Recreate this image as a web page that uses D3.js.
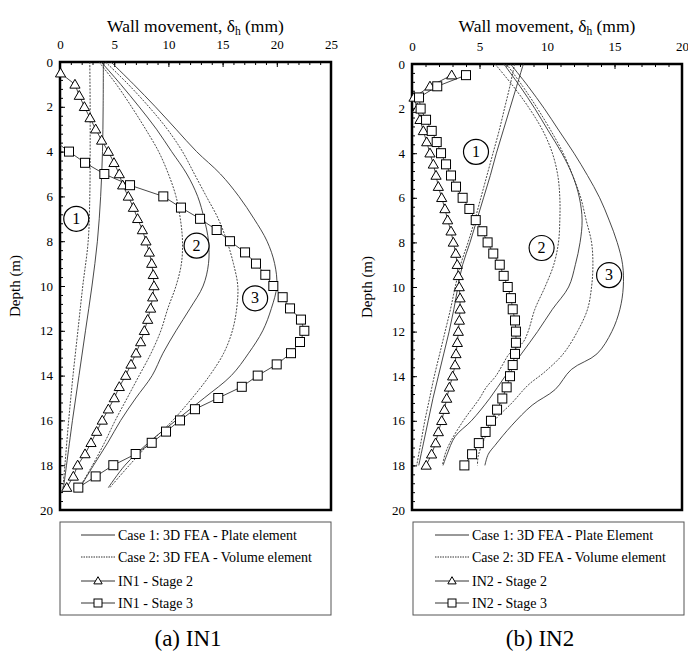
<!DOCTYPE html>
<html>
<head>
<meta charset="utf-8">
<script src="https://cdn.jsdelivr.net/npm/d3@7"></script>
<style>
body { margin: 0; background: #fff; }
</style>
</head>
<body>
<div id="chart"></div>
<script>
// every series is a list of [depth (m), wall movement (mm)]

// (a) IN1
var in1PlateS1 = [[0,4.0],[2,3.98],[4,3.92],[6,3.75],[8,3.45],[10,2.95],[12,2.35],[14,1.75],[16,1.15],[18,0.6],[19.1,0.3]];
var in1VolumeS1 = [[0,2.75],[2,2.78],[4,2.78],[6,2.75],[8,2.6],[10,2.1],[12,1.65],[14,1.2],[16,0.8],[18,0.45],[19.1,0.25]];
var in1PlateS2 = [[0,3.8],[1,5.6],[2,7.3],[3,8.9],[4,10.3],[5,11.7],[6,12.7],[7,13.3],[8,13.7],[9,13.7],[10,13.2],[11,12.0],[12,10.7],[13,9.5],[14,8.5],[15,7.0],[16,5.6],[17,4.4],[18,3.1],[19,1.85]];
var in1VolumeS2 = [[0,3.6],[1,5.2],[2,6.6],[3,7.9],[4,9.1],[5,10.0],[6,10.7],[7,11.1],[8,11.3],[9,11.2],[10,10.7],[11,9.95],[12,9.3],[13,8.4],[14,7.3],[15,6.2],[16,5.1],[17,4.1],[18,3.0],[19,1.8]];
var in1PlateS3 = [[0,4.7],[1,6.8],[2,8.8],[3,10.7],[4,12.6],[5,14.8],[6,16.5],[7,17.9],[8,19.1],[9,19.8],[10,20.0],[11,19.5],[12,18.7],[13,17.4],[14,15.8],[15,13.3],[16,10.7],[17,8.15],[18,6.0],[19,4.46]];
var in1VolumeS3 = [[0,4.2],[1,6.3],[2,8.2],[3,9.9],[4,11.3],[5,12.4],[6,13.5],[7,14.6],[8,15.4],[9,16.0],[10,16.4],[11,16.3],[12,15.9],[13,15.1],[14,13.8],[15,12.2],[16,10.4],[17,8.3],[18,6.4],[19,4.6]];
var in1Stage2 = [[0.5,0.05],[1,1.38],[1.5,1.78],[2,2.25],[2.5,2.77],[3,3.29],[3.5,3.84],[4,4.46],[4.5,4.98],[5,5.47],[5.5,5.78],[6,6.3],[6.5,6.77],[7,7.16],[7.5,7.6],[8,7.93],[8.5,8.24],[9,8.46],[9.5,8.6],[10,8.67],[10.5,8.55],[11,8.36],[11.5,8.09],[12,7.78],[12.5,7.44],[13,7.01],[13.5,6.55],[14,6.06],[14.5,5.47],[15,5.01],[15.5,4.46],[16,3.9],[16.5,3.38],[17,2.86],[17.5,2.31],[18,1.63],[18.5,1.23],[19,0.62]];
var in1Stage3Start = [3.7,0];
var in1Stage3 = [[4,0.83],[4.5,2.31],[5,4.09],[5.5,6.46],[6,9.53],[6.5,11.16],[7,12.92],[7.5,14.45],[8,15.68],[8.5,17.07],[9,18.08],[9.5,18.94],[10,19.68],[10.5,20.54],[11,21.22],[11.5,22.23],[12,22.54],[12.5,22.14],[13,21.31],[13.5,19.99],[14,18.24],[14.5,16.77],[15,14.6],[15.5,12.45],[16,11.07],[16.5,9.78],[17,8.46],[17.5,6.98],[18,4.92],[18.5,3.29],[19,1.69]];
var in1Labels = [[7,1.5,"1"],[8.2,12.6,"2"],[10.55,18.0,"3"]];

// (b) IN2
var in2PlateS1 = [[0,8.25],[1,7.75],[2,7.25],[3,6.75],[4,6.25],[5,5.8],[6,5.3],[7,4.8],[8,4.3],[9,3.75],[10,3.4],[11,3.1],[12,2.75],[13,2.35],[14,1.95],[15,1.55],[16,1.2],[17,0.85],[18,0.5]];
var in2VolumeS1 = [[0,7.6],[1,7.25],[2,6.85],[3,6.45],[4,6.0],[5,5.55],[6,5.1],[7,4.65],[8,4.15],[9,3.6],[10,3.2],[11,2.85],[12,2.45],[13,2.05],[14,1.65],[15,1.3],[16,0.95],[17,0.65],[18,0.35]];
var in2PlateS2 = [[0,6.8],[1,8.0],[2,9.1],[3,10.1],[4,11.1],[5,11.9],[6,12.4],[7,12.6],[8,12.45],[9,12.1],[10,11.6],[11,10.4],[12,9.3],[13,8.1],[14,6.9],[15,5.75],[16,4.4],[16.7,3.2],[17.5,2.6],[18,2.3]];
var in2VolumeS2 = [[0,6.15],[1,7.5],[2,8.7],[3,9.7],[4,10.4],[5,10.8],[6,10.95],[7,10.95],[8,10.85],[9,10.5],[10,9.85],[11,9.1],[12,8.6],[12.5,8.2],[13,7.2],[13.5,6.7],[14,6.2],[14.5,5.5],[15,5.0],[16,3.8],[17,2.8],[17.5,2.45],[18,2.25]];
var in2PlateS3 = [[0,7.3],[1,8.6],[2,9.8],[3,10.9],[4,12.0],[5,13.0],[6,13.9],[7,14.6],[8,15.2],[9,15.6],[10,15.65],[11,15.4],[12,14.8],[13,13.7],[13.7,11.8],[14.6,10.6],[15.3,8.9],[16.2,7.4],[17.1,6.15],[17.5,5.65],[18,5.4]];
var in2VolumeS3 = [[0,7.0],[1,8.2],[2,9.3],[3,10.3],[4,11.2],[5,11.9],[6,12.5],[7,12.9],[8,13.3],[9,13.4],[10,13.3],[11,13.0],[12,12.25],[13,11.2],[13.8,9.85],[14.4,8.6],[15.2,7.4],[16,6.1],[16.9,5.3],[17.6,4.9],[18,4.85]];
var in2Stage2 = [[0.5,2.94],[1,1.33],[1.5,0.15],[2,0.4],[2.5,0.59],[3,0.84],[3.5,1.09],[4,1.33],[4.5,1.58],[5,1.78],[5.5,1.95],[6,2.2],[6.5,2.44],[7,2.64],[7.5,2.89],[8,3.06],[8.5,3.24],[9,3.35],[9.5,3.43],[10,3.5],[10.5,3.56],[11,3.56],[11.5,3.51],[12,3.43],[12.5,3.36],[13,3.26],[13.5,3.19],[14,3.01],[14.5,2.77],[15,2.57],[15.5,2.4],[16,2.2],[16.5,1.95],[17,1.75],[17.5,1.45],[18,1.05]];
var in2Stage3 = [[0.5,4.0],[1,1.87],[1.5,0.52],[2,0.64],[2.5,1.04],[3,1.46],[3.5,1.83],[4,2.15],[4.5,2.52],[5,2.89],[5.5,3.26],[6,3.75],[6.5,4.25],[7,4.72],[7.5,5.21],[8,5.6],[8.5,6.02],[9,6.5],[9.5,6.79],[10,7.09],[10.5,7.33],[11,7.46],[11.5,7.63],[12,7.7],[12.5,7.7],[13,7.63],[13.5,7.46],[14,7.26],[14.5,7.01],[15,6.69],[15.5,6.3],[16,5.85],[16.5,5.45],[17,4.95],[17.5,4.45],[18,3.88]];
var in2Labels = [[3.94,4.74,"1"],[8.25,9.6,"2"],[9.47,14.6,"3"]];

var in1LegendText = ["Case 1: 3D FEA - Plate element", "Case 2: 3D FEA - Volume element", "IN1 - Stage 2", "IN1 - Stage 3"];
var in2LegendText = ["Case 1: 3D FEA - Plate Element", "Case 2: 3D FEA - Volume element", "IN2 - Stage 2", "IN2 - Stage 3"];

var serif = "Liberation Serif, DejaVu Serif, serif";

var svg = d3.select("#chart").append("svg")
	.attr("width", 688)
	.attr("height", 654)
	.style("font-family", serif);

function drawPanel(config) {
	var left = config.left, right = config.right, top = config.top, bottom = 510;
	var xScale = d3.scaleLinear().domain([0, config.xMax]).range([left, right]);
	var yScale = d3.scaleLinear().domain([0, 20]).range([top, bottom]);
	var g = svg.append("g");

	// minor ticks first, then the major ones
	g.append("g")
		.attr("transform", "translate(0," + top + ")")
		.call(d3.axisTop(xScale).tickValues(d3.range(0, config.xMax + 1, 1)).tickSize(-3).tickFormat(""))
		.call(function(a) { a.select(".domain").remove(); });
	g.append("g")
		.attr("transform", "translate(0," + top + ")")
		.call(d3.axisTop(xScale).tickValues(d3.range(0, config.xMax + 1, 5)).tickSize(-5).tickPadding(13))
		.call(function(a) { a.select(".domain").remove(); });
	g.append("g")
		.attr("transform", "translate(" + left + ",0)")
		.call(d3.axisLeft(yScale).tickValues(d3.range(0, 20.01, 0.4)).tickSize(-3).tickFormat(""))
		.call(function(a) { a.select(".domain").remove(); });
	g.append("g")
		.attr("transform", "translate(" + left + ",0)")
		.call(d3.axisLeft(yScale).tickValues(d3.range(0, 21, 2)).tickSize(-5).tickPadding(7))
		.call(function(a) { a.select(".domain").remove(); });
	g.selectAll(".tick text").attr("font-size", 13);
	g.selectAll(".tick line").attr("stroke", "#000");

	// frame
	g.append("rect")
		.attr("x", left).attr("y", top)
		.attr("width", right - left).attr("height", bottom - top)
		.attr("fill", "none").attr("stroke", "#000").attr("stroke-width", 2.5);

	var smooth = d3.line()
		.x(function(d) { return xScale(d[1]); })
		.y(function(d) { return yScale(d[0]); })
		.curve(d3.curveCatmullRom.alpha(0.5));
	var straight = d3.line()
		.x(function(d) { return xScale(d[1]); })
		.y(function(d) { return yScale(d[0]); });

	config.plate.forEach(function(s) {
		g.append("path").attr("d", smooth(s))
			.attr("fill", "none").attr("stroke", "#333").attr("stroke-width", 0.9);
	});
	config.volume.forEach(function(s) {
		g.append("path").attr("d", smooth(s))
			.attr("fill", "none").attr("stroke", "#333").attr("stroke-width", 0.9)
			.attr("stroke-dasharray", "2,1.3");
	});

	// measured profiles
	g.append("path").attr("d", straight(config.stage2))
		.attr("fill", "none").attr("stroke", "#333").attr("stroke-width", 0.9);
	g.append("path").attr("d", straight(config.stage3Line))
		.attr("fill", "none").attr("stroke", "#333").attr("stroke-width", 0.9);
	var tri = d3.symbol().type(d3.symbolTriangle).size(45);
	g.selectAll("path.tri")
		.data(config.stage2)
		.enter().append("path")
		.attr("class", "tri")
		.attr("d", tri)
		.attr("transform", function(d) { return "translate(" + xScale(d[1]) + "," + (yScale(d[0]) + 0.8) + ")"; })
		.attr("fill", "#fff").attr("stroke", "#000").attr("stroke-width", 1);
	g.selectAll("rect.sq")
		.data(config.stage3)
		.enter().append("rect")
		.attr("class", "sq")
		.attr("x", function(d) { return xScale(d[1]) - 4.5; })
		.attr("y", function(d) { return yScale(d[0]) - 4.5; })
		.attr("width", 9).attr("height", 9)
		.attr("fill", "#fff").attr("stroke", "#000").attr("stroke-width", 1);

	// circled case numbers
	var lab = g.selectAll("g.lab")
		.data(config.labels)
		.enter().append("g")
		.attr("class", "lab")
		.attr("transform", function(d) { return "translate(" + xScale(d[1]) + "," + yScale(d[0]) + ")"; });
	lab.append("circle").attr("r", 12.5)
		.attr("fill", "#fff").attr("stroke", "#000").attr("stroke-width", 1.2);
	lab.append("text")
		.attr("text-anchor", "middle").attr("dy", 5)
		.attr("font-size", 16)
		.text(function(d) { return d[2]; });

	// axis titles
	var title = g.append("text")
		.attr("x", (left + right) / 2).attr("y", 32)
		.attr("text-anchor", "middle").attr("font-size", 17.5);
	title.append("tspan").text("Wall movement, δ");
	title.append("tspan").attr("font-size", 11.5).attr("dy", 3).text("h");
	title.append("tspan").attr("dy", -3).text(" (mm)");
	g.append("text")
		.attr("transform", "translate(" + config.depthX + "," + ((top + bottom) / 2) + ") rotate(-90)")
		.attr("text-anchor", "middle").attr("font-size", 15)
		.text("Depth (m)");

	// legend box under the plot
	var lg = g.append("g").attr("transform", "translate(" + config.legendX + ",522)");
	lg.append("rect")
		.attr("width", config.legendW).attr("height", 93)
		.attr("fill", "#fff").attr("stroke", "#555").attr("stroke-width", 1);
	var rowY = [13, 35, 59, 81];
	var sx0 = config.sampleX, sx1 = config.sampleX + 34;
	lg.append("line").attr("x1", sx0).attr("x2", sx1).attr("y1", rowY[0]).attr("y2", rowY[0])
		.attr("stroke", "#333").attr("stroke-width", 1);
	lg.append("line").attr("x1", sx0).attr("x2", sx1).attr("y1", rowY[1]).attr("y2", rowY[1])
		.attr("stroke", "#333").attr("stroke-width", 1).attr("stroke-dasharray", "1.5,1");
	lg.append("line").attr("x1", sx0).attr("x2", sx1).attr("y1", rowY[2]).attr("y2", rowY[2])
		.attr("stroke", "#333").attr("stroke-width", 1);
	lg.append("line").attr("x1", sx0).attr("x2", sx1).attr("y1", rowY[3]).attr("y2", rowY[3])
		.attr("stroke", "#333").attr("stroke-width", 1);
	lg.append("path").attr("d", d3.symbol().type(d3.symbolTriangle).size(30))
		.attr("transform", "translate(" + ((sx0 + sx1) / 2) + "," + (rowY[2] + 0.5) + ")")
		.attr("fill", "#fff").attr("stroke", "#000");
	lg.append("rect")
		.attr("x", (sx0 + sx1) / 2 - 4).attr("y", rowY[3] - 4)
		.attr("width", 8).attr("height", 8)
		.attr("fill", "#fff").attr("stroke", "#000");
	lg.selectAll("text.leg")
		.data(config.legendText)
		.enter().append("text")
		.attr("class", "leg")
		.attr("x", sx1 + 3)
		.attr("y", function(d, i) { return rowY[i] + 4.5; })
		.attr("font-size", 14)
		.text(function(d) { return d; });

	svg.append("text")
		.attr("x", config.captionX).attr("y", 646)
		.attr("text-anchor", "middle").attr("font-size", 23)
		.text(config.caption);
}

drawPanel({
	left: 60, right: 331, top: 62, xMax: 25,
	plate: [in1PlateS1, in1PlateS2, in1PlateS3],
	volume: [in1VolumeS1, in1VolumeS2, in1VolumeS3],
	stage2: in1Stage2,
	stage3: in1Stage3,
	stage3Line: [in1Stage3Start].concat(in1Stage3),
	labels: in1Labels,
	depthX: 20,
	legendX: 60, legendW: 271, sampleX: 21,
	legendText: in1LegendText,
	caption: "(a) IN1", captionX: 188
});
drawPanel({
	left: 412, right: 682, top: 64, xMax: 20,
	plate: [in2PlateS1, in2PlateS2, in2PlateS3],
	volume: [in2VolumeS1, in2VolumeS2, in2VolumeS3],
	stage2: in2Stage2,
	stage3: in2Stage3,
	stage3Line: in2Stage3,
	labels: in2Labels,
	depthX: 372,
	legendX: 413, legendW: 271, sampleX: 22,
	legendText: in2LegendText,
	caption: "(b) IN2", captionX: 540
});

// d3 axes stamp font-family="sans-serif" on their groups; override it on every text
svg.selectAll("g").attr("font-family", null);
svg.selectAll("text").style("font-family", serif);
</script>
</body>
</html>
